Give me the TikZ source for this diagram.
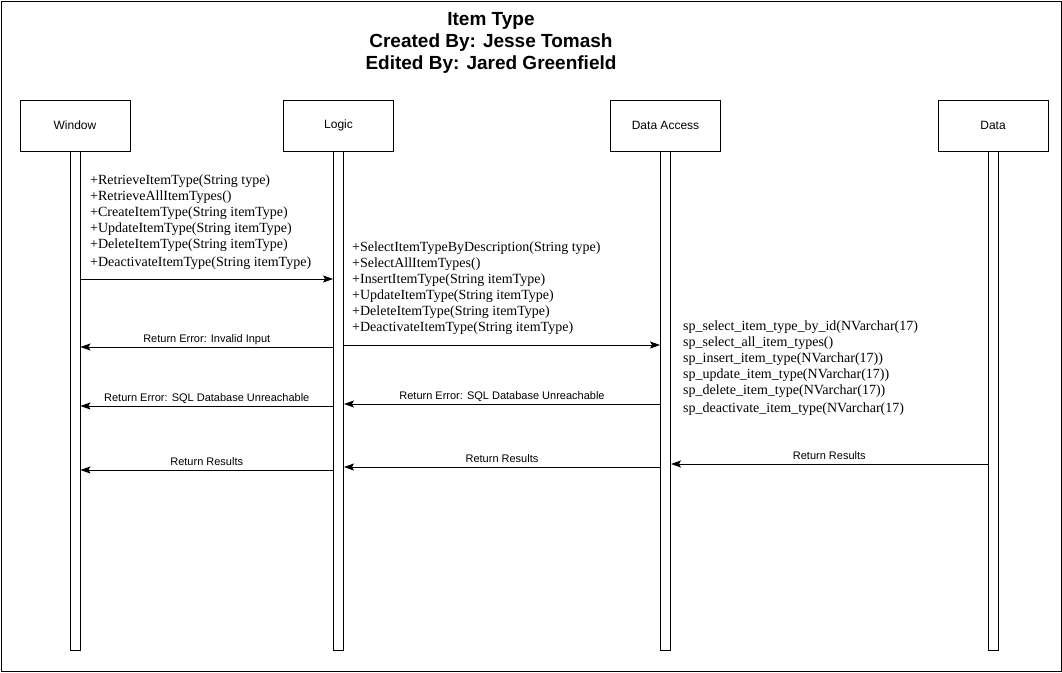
\documentclass[tikz,border=0pt]{standalone}
\usepackage{fontspec}
\setmainfont{Liberation Serif}
\newfontfamily\labelfont{Liberation Sans}
\usetikzlibrary{arrows.meta}
\begin{document}
\begin{tikzpicture}[x=1pt,y=-1pt,
  actor/.style={draw, line width=0.9pt, minimum width=110pt, minimum height=51pt,
    inner sep=0pt, font=\labelfont\fontsize{12}{14}\selectfont},
  lifeline/.style={draw, line width=0.9pt, minimum width=10pt, minimum height=499pt,
    inner sep=0pt, anchor=north},
  msg/.style={line width=0.9pt, -{Stealth[length=10pt,width=7pt,inset=2pt]}},
  ops/.style={font=\fontsize{14}{16}\selectfont, align=left, anchor=north west, inner sep=0pt},
  lbl/.style={font=\labelfont\fontsize{11}{13}\selectfont, inner sep=0pt, anchor=base, yshift=4.5pt}
]
\useasboundingbox (0,0) rectangle (1062,672);
\draw[line width=1pt] (1,1) rectangle (1061,671);

% heading
\node[font=\labelfont\bfseries\fontsize{19}{22}\selectfont, align=center, inner sep=0pt]
  (title) at (491,43) {Item Type\\Created By: Jesse Tomash\\Edited By: Jared Greenfield};

% participants
\node[actor] (w)  at (75,125.5)  {Window};
\node[actor] (l)  at (338.5,125.5) {Logic};
\node[actor] (da) at (665.5,125.5) {Data Access};
\node[actor] (d)  at (993,125.5) {Data};

% lifelines
\node[lifeline] (wl)  at (w.south)  {};
\node[lifeline] (ll)  at (l.south)  {};
\node[lifeline] (dal) at (da.south) {};
\node[lifeline] (dl)  at (d.south)  {};

% message rows
\coordinate (m1) at (0,279);
\coordinate (m2) at (0,345);
\coordinate (r1) at (0,347);
\coordinate (r2) at (0,406);
\coordinate (r3) at (0,404);
\coordinate (r4) at (0,470);
\coordinate (r5) at (0,467);
\coordinate (r6) at (0,464);

% operation lists
\node[ops] (ops1) at (90,175) {+RetrieveItemType(String type)\\+RetrieveAllItemTypes()\\+CreateItemType(String itemType)\\+UpdateItemType(String itemType)\\+DeleteItemType(String itemType)\\[2pt]+DeactivateItemType(String itemType)};
\node[ops] (ops2) at (352,242) {+SelectItemTypeByDescription(String type)\\+SelectAllItemTypes()\\+InsertItemType(String itemType)\\+UpdateItemType(String itemType)\\+DeleteItemType(String itemType)\\+DeactivateItemType(String itemType)};
\node[ops] (ops3) at (683,321) {sp\_select\_item\_type\_by\_id(NVarchar(17)\\sp\_select\_all\_item\_types()\\sp\_insert\_item\_type(NVarchar(17))\\sp\_update\_item\_type(NVarchar(17))\\sp\_delete\_item\_type(NVarchar(17))\\[2pt]sp\_deactivate\_item\_type(NVarchar(17)};

% calls
\draw[msg] (wl.east |- m1) -- (ll.west |- m1);
\draw[msg] (ll.east |- m2) -- (dal.west |- m2);

% returns
\draw[msg] (ll.west |- r1) -- node[lbl] {Return Error: Invalid Input} (wl.east |- r1);
\draw[msg] (ll.west |- r2) -- node[lbl] {Return Error: SQL Database Unreachable} (wl.east |- r2);
\draw[msg] (dal.west |- r3) -- node[lbl] {Return Error: SQL Database Unreachable} (ll.east |- r3);
\draw[msg] (ll.west |- r4) -- node[lbl] {Return Results} (wl.east |- r4);
\draw[msg] (dal.west |- r5) -- node[lbl] {Return Results} (ll.east |- r5);
\draw[msg] (dl.west |- r6) -- node[lbl] {Return Results} (dal.east |- r6);
\end{tikzpicture}
\end{document}
